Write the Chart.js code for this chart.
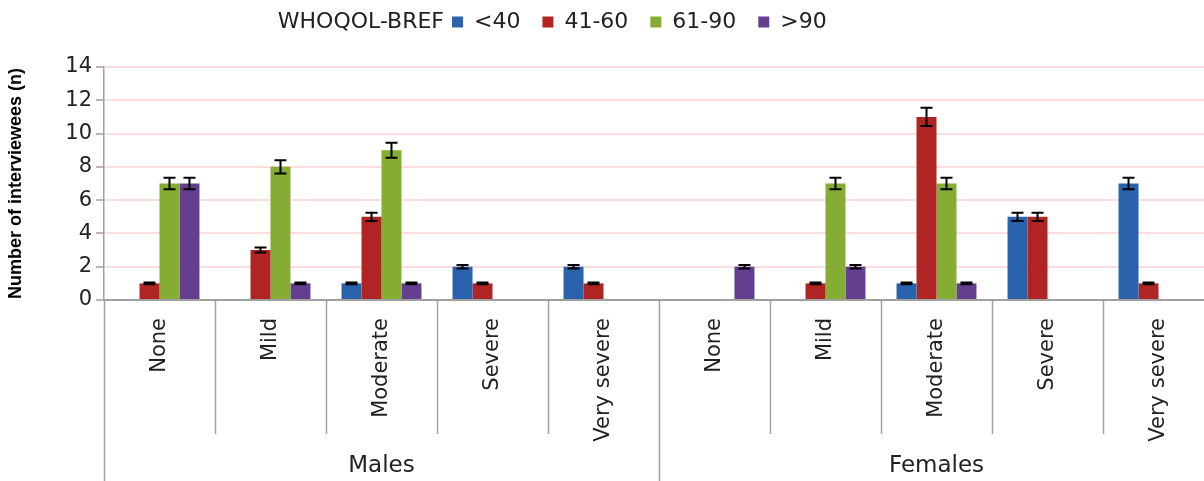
<!DOCTYPE html>
<html>
<head>
<meta charset="utf-8">
<script src="https://cdn.jsdelivr.net/npm/chart.js@4.4.0/dist/chart.umd.min.js"></script>
<style>
  html, body { margin: 0; padding: 0; background: #fff; overflow: hidden; }
  canvas { display: block; }
</style>
</head>
<body>
<canvas id="chart" width="1214" height="481"></canvas>
<script>
// values
const severity = ['None', 'Mild', 'Moderate', 'Severe', 'Very severe'];
const groups = ['Males', 'Females'];
const bands = ['<40', '41-60', '61-90', '>90'];
const yTicks = [0, 2, 4, 6, 8, 10, 12, 14];

//                 ---------- males ----------   --------- females ---------
const under40   = [0, 0, 1, 2, 2,                 0, 0, 1, 5, 7];
const from41    = [1, 3, 5, 1, 1,                 0, 1, 11, 5, 1];
const from61    = [7, 8, 9, 0, 0,                 0, 7, 7, 0, 0];
const over90    = [7, 1, 1, 0, 0,                 2, 2, 1, 0, 0];

// error bar half lengths
const errUnder40 = [0, 0, 0.05, 0.1, 0.1,         0, 0, 0.05, 0.25, 0.35];
const errFrom41  = [0.05, 0.15, 0.25, 0.05, 0.05, 0, 0.05, 0.55, 0.25, 0.05];
const errFrom61  = [0.35, 0.4, 0.45, 0, 0,        0, 0.35, 0.35, 0, 0];
const errOver90  = [0.35, 0.05, 0.05, 0, 0,       0.1, 0.1, 0.05, 0, 0];

const colors = ['#2A62AC', '#B02424', '#86AD33', '#643F8F'];
const labels = groups.flatMap(() => severity);

Chart.defaults.font.family = 'DejaVu Sans';
Chart.defaults.color = '#222';

// move the legend to where it sits in the figure
const legendSpot = {
  id: 'legendSpot',
  afterLayout(chart) {
    const lg = chart.legend;
    const pad = lg.options.labels.padding;
    const dx = 452 - (lg.left + pad);
    const dy = 22 - (lg.top + pad + 11);
    lg.left += dx; lg.right += dx;
    lg.top += dy; lg.bottom += dy;
  },
  afterDraw(chart) {
    const lg = chart.legend;
    const ctx = chart.ctx;
    ctx.save();
    ctx.font = '22px "DejaVu Sans"';
    ctx.fillStyle = '#222';
    ctx.textAlign = 'right';
    ctx.textBaseline = 'middle';
    ctx.fillText('WHOQOL-BREF', lg.legendHitBoxes[0].left - 8, 22);
    ctx.restore();
  }
};

const errorBars = {
  id: 'errorBars',
  afterDatasetsDraw(chart) {
    const { ctx, scales: { y } } = chart;
    ctx.save();
    ctx.strokeStyle = '#000';
    ctx.lineWidth = 2;
    chart.data.datasets.forEach((ds, i) => {
      chart.getDatasetMeta(i).data.forEach((bar, j) => {
        const v = ds.data[j], e = ds.errors[j];
        if (!v) return;
        const top = y.getPixelForValue(v + e);
        const bot = y.getPixelForValue(v - e);
        ctx.beginPath();
        ctx.moveTo(bar.x, top); ctx.lineTo(bar.x, bot);
        ctx.moveTo(bar.x - 6, top); ctx.lineTo(bar.x + 6, top);
        ctx.moveTo(bar.x - 6, bot); ctx.lineTo(bar.x + 6, bot);
        ctx.stroke();
      });
    });
    ctx.restore();
  }
};

// category separators and the Males / Females row
const groupAxis = {
  id: 'groupAxis',
  afterDraw(chart) {
    const { ctx, chartArea, scales: { x } } = chart;
    const w = x.getPixelForValue(1) - x.getPixelForValue(0);
    const edge = k => x.getPixelForValue(0) + (k - 0.5) * w;
    const n = severity.length;
    ctx.save();
    ctx.strokeStyle = '#A0A0A0';
    ctx.lineWidth = 1.5;
    for (let k = 0; k <= labels.length; k++) {
      const px = Math.round(edge(k)) + 0.5;
      const long = k % n === 0;
      ctx.beginPath();
      ctx.moveTo(px, chartArea.bottom);
      ctx.lineTo(px, long ? chart.height : chartArea.bottom + 134);
      ctx.stroke();
    }
    ctx.font = '23px "DejaVu Sans"';
    ctx.fillStyle = '#222';
    ctx.textAlign = 'center';
    ctx.textBaseline = 'middle';
    groups.forEach((g, i) => {
      ctx.fillText(g, (edge(i * n) + edge((i + 1) * n)) / 2, 466);
    });
    ctx.restore();
  }
};

const series = [under40, from41, from61, over90];
const errs = [errUnder40, errFrom41, errFrom61, errOver90];

new Chart(document.getElementById('chart'), {
  type: 'bar',
  data: {
    labels: labels,
    datasets: bands.map((b, i) => ({
      label: b,
      data: series[i],
      errors: errs[i],
      backgroundColor: colors[i],
      borderWidth: 0,
      categoryPercentage: 0.72,
      barPercentage: 1.0
    }))
  },
  options: {
    responsive: false,
    animation: false,
    devicePixelRatio: 1,
    layout: { padding: { top: 13, left: 0, right: 0, bottom: 0 } },
    plugins: {
      legend: {
        position: 'top',
        align: 'start',
        labels: {
          boxWidth: 11,
          boxHeight: 11,
          padding: 22,
          color: '#222',
          font: { size: 22 }
        }
      },
      tooltip: { enabled: false }
    },
    scales: {
      x: {
        afterFit: s => { s.height = 181; },
        grid: { display: false, drawTicks: false },
        border: { display: true, color: '#A0A0A0', width: 2 },
        ticks: {
          autoSkip: false,
          minRotation: 90,
          maxRotation: 90,
          padding: 18,
          color: '#222',
          font: { size: 21 }
        }
      },
      y: {
        min: 0,
        max: 14,
        afterFit: s => { s.width = 104; },
        afterBuildTicks: s => { s.ticks = yTicks.map(v => ({ value: v })); },
        grid: { color: '#FBDCDF', lineWidth: 2, tickColor: '#A0A0A0', tickLength: 8, tickWidth: 1.5 },
        border: { color: '#A0A0A0', width: 1.5 },
        ticks: { color: '#222', padding: 4, font: { size: 21 } },
        title: {
          display: true,
          text: 'Number of interviewees (n)',
          color: '#000',
          padding: { top: 5, bottom: 0 },
          font: { family: '"Liberation Sans Narrow", "Liberation Sans"', weight: 'bold', size: 18 }
        }
      }
    }
  },
  plugins: [legendSpot, errorBars, groupAxis]
});
</script>
</body>
</html>
